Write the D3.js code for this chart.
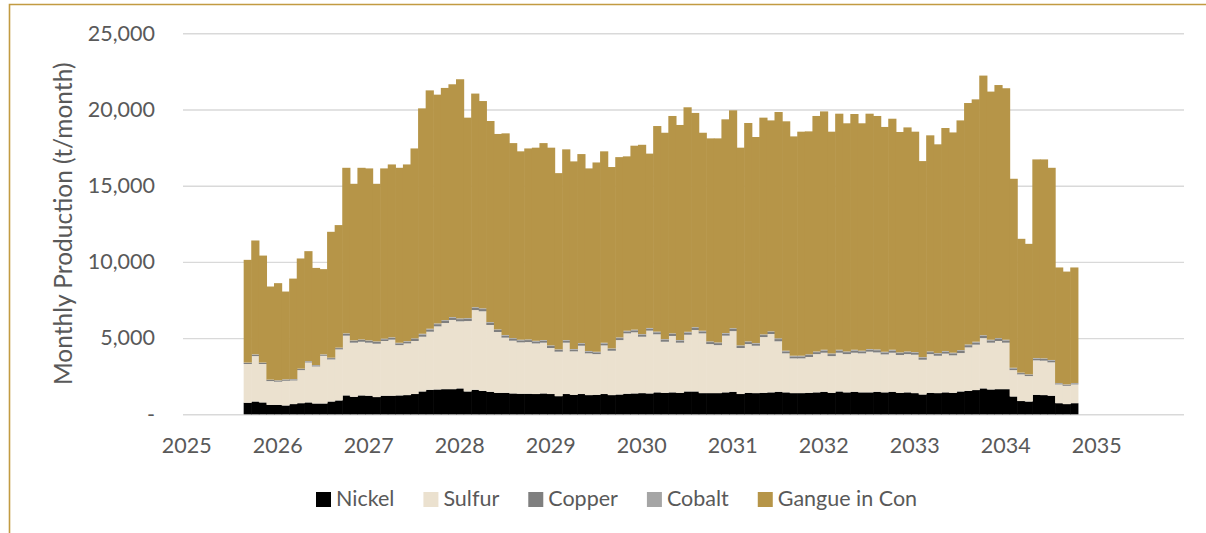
<!DOCTYPE html>
<html>
<head>
<meta charset="utf-8">
<script src="https://cdn.jsdelivr.net/npm/d3@7"></script>
<style>
  html, body { margin: 0; padding: 0; background: #ffffff; }
  text { font-family: Lato, "Open Sans", sans-serif; fill: #595959; }
</style>
</head>
<body>
<svg id="chart" width="1206" height="533"></svg>
<script>
// Monthly concentrate production, Sep 2025 – Oct 2034 (t/month)
const firstMonth = new Date(2025, 8, 1);

const nickel = [
  760, 840, 780, 620, 620, 580, 670, 730, 780, 710,
  710, 840, 910, 1240, 1150, 1240, 1220, 1130, 1220, 1220,
  1240, 1260, 1330, 1500, 1610, 1630, 1650, 1650, 1700, 1500,
  1610, 1540, 1480, 1410, 1410, 1370, 1350, 1350, 1330, 1370,
  1330, 1190, 1330, 1280, 1330, 1260, 1280, 1330, 1260, 1300,
  1350, 1370, 1390, 1370, 1440, 1410, 1440, 1410, 1500, 1500,
  1390, 1390, 1390, 1440, 1480, 1330, 1410, 1390, 1410, 1440,
  1480, 1440, 1390, 1390, 1410, 1440, 1480, 1410, 1500, 1440,
  1480, 1440, 1440, 1480, 1440, 1480, 1410, 1440, 1390, 1300,
  1410, 1390, 1440, 1410, 1500, 1540, 1590, 1700, 1630, 1650,
  1650, 1170, 870, 840, 1280, 1260, 1220, 730, 670, 730
];

const sulfur = [
  2540, 2980, 2520, 1560, 1520, 1620, 1550, 2170, 2620, 2430,
  3130, 2760, 3350, 3920, 3550, 3520, 3480, 3500, 3590, 3680,
  3300, 3390, 3480, 3590, 3810, 4140, 4340, 4540, 4400, 4620,
  5230, 5220, 4380, 3990, 3620, 3460, 3370, 3390, 3320, 3330,
  3020, 2920, 3370, 2850, 3170, 2740, 2670, 3190, 2910, 3570,
  3960, 4010, 3700, 4120, 3810, 3350, 3700, 3290, 3720, 4030,
  3920, 3220, 3150, 3720, 3980, 3020, 3200, 3110, 3660, 3830,
  3310, 2560, 2280, 2280, 2350, 2510, 2560, 2410, 2540, 2510,
  2560, 2560, 2670, 2580, 2490, 2560, 2480, 2510, 2520, 2280,
  2540, 2450, 2540, 2460, 2520, 2850, 2980, 3300, 3070, 3160,
  3050, 1730, 1750, 1670, 2260, 2260, 2190, 1230, 1200, 1230
];

const copper = [
  70, 85, 70, 70, 70, 70, 70, 70, 70, 70,
  70, 85, 85, 115, 115, 115, 115, 115, 115, 115,
  115, 115, 130, 145, 145, 145, 145, 145, 145, 145,
  145, 145, 145, 130, 130, 130, 130, 130, 130, 130,
  130, 115, 130, 115, 130, 115, 115, 130, 115, 130,
  130, 130, 130, 130, 130, 130, 130, 130, 145, 145,
  130, 130, 130, 130, 145, 130, 130, 130, 130, 130,
  145, 130, 130, 130, 130, 130, 145, 130, 145, 130,
  145, 130, 130, 145, 130, 145, 130, 130, 130, 130,
  130, 130, 130, 130, 145, 145, 145, 145, 145, 145,
  145, 115, 85, 85, 115, 115, 115, 70, 70, 70
];

const cobalt = [
  25, 30, 25, 25, 25, 25, 25, 25, 25, 25,
  25, 30, 30, 40, 40, 40, 40, 40, 40, 40,
  40, 40, 45, 50, 50, 50, 50, 50, 50, 50,
  50, 50, 50, 45, 45, 45, 45, 45, 45, 45,
  45, 40, 45, 40, 45, 40, 40, 45, 40, 45,
  45, 45, 45, 45, 45, 45, 45, 45, 50, 50,
  45, 45, 45, 45, 50, 45, 45, 45, 45, 45,
  50, 45, 45, 45, 45, 45, 50, 45, 50, 45,
  50, 45, 45, 50, 45, 50, 45, 45, 45, 45,
  45, 45, 45, 45, 50, 50, 50, 50, 50, 50,
  50, 40, 30, 30, 40, 40, 40, 25, 25, 25
];

const gangue = [
  6740, 7470, 7020, 6110, 6370, 5760, 6590, 7230, 7210, 6370,
  5590, 8260, 8040, 10860, 10270, 11260, 11280, 10340, 11170, 11340,
  11480, 11590, 12460, 14790, 15640, 15010, 15230, 15270, 15690, 13150,
  14010, 13600, 13190, 12820, 13230, 12790, 12360, 12530, 12670, 12920,
  12970, 11560, 12510, 12310, 12400, 11980, 12420, 12560, 11900, 11830,
  11440, 12070, 12420, 11440, 13490, 13540, 14260, 14110, 14730, 14050,
  12990, 13320, 13390, 14020, 14290, 12970, 14330, 13520, 14220, 13840,
  14850, 15050, 14390, 14700, 14630, 15450, 15640, 14550, 15490, 14970,
  15470, 14920, 15440, 15320, 14750, 15160, 14460, 14700, 14460, 12860,
  14180, 13700, 14630, 14450, 15070, 15840, 15900, 17030, 16280, 16600,
  16500, 12400, 8780, 8560, 13030, 13050, 12610, 7580, 7400, 7580
];

const seriesNames = ["Nickel", "Sulfur", "Copper", "Cobalt", "Gangue in Con"];
const seriesValues = [nickel, sulfur, copper, cobalt, gangue];
const seriesColors = ["#000000", "#ebe1cf", "#7f7f7f", "#a5a5a5", "#b69548"];

const yTicks = [0, 5000, 10000, 15000, 20000, 25000];
const axisStart = new Date(2025, 0, 1);
const axisEnd = new Date(2036, 0, 1);
const yTitle = "Monthly Production (t/month)";

// ---- layout ----
const svg = d3.select("#chart");
const plot = { left: 183, right: 1184, top: 33.3, bottom: 414.3 };
const tickFont = "21.5px";

const months = d3.timeMonths(firstMonth, d3.timeMonth.offset(firstMonth, nickel.length));
const rows = months.map((m, i) => {
  const r = { month: +m };
  seriesNames.forEach((k, s) => { r[k] = seriesValues[s][i]; });
  return r;
});

const axisMonths = d3.timeMonths(axisStart, axisEnd).map(d => +d);
const x = d3.scaleBand().domain(axisMonths).range([plot.left, plot.right]).padding(0);
const y = d3.scaleLinear().domain([0, 25000]).range([plot.bottom, plot.top]);
const color = d3.scaleOrdinal().domain(seriesNames).range(seriesColors);

// chart frame
svg.append("path")
  .attr("d", "M9.5,533 L9.5,4.5 L1206,4.5")
  .attr("fill", "none")
  .attr("stroke", "#c29b42")
  .attr("stroke-width", 1.6);

// value axis with gridlines
const yAxis = svg.append("g")
  .attr("transform", `translate(${plot.left},0)`)
  .call(d3.axisLeft(y)
    .tickValues(yTicks)
    .tickSize(-(plot.right - plot.left))
    .tickPadding(28)
    .tickFormat(d => d === 0 ? "-" : d3.format(",")(d)));
yAxis.select(".domain").remove();
yAxis.selectAll(".tick line").attr("stroke", "#d9d9d9").attr("stroke-width", 1.4);
yAxis.selectAll(".tick text")
  .style("font-size", tickFont)
  .attr("fill", "#595959");

// stacked monthly bars
const stacked = d3.stack().keys(seriesNames)(rows);
const bw = x.bandwidth();
svg.append("g")
  .selectAll("g")
  .data(stacked)
  .join("g")
  .attr("fill", d => color(d.key))
  .selectAll("rect")
  .data(d => d)
  .join("rect")
  .attr("x", d => x(d.data.month))
  .attr("y", d => y(d[1]))
  .attr("width", bw + 0.6)
  .attr("height", d => Math.max(0, y(d[0]) - y(d[1])));

// time axis, one label per January
const xAxis = svg.append("g")
  .attr("transform", `translate(0,${plot.bottom})`)
  .call(d3.axisBottom(x)
    .tickValues(axisMonths.filter(d => new Date(d).getMonth() === 0))
    .tickSize(0)
    .tickFormat(d => d3.timeFormat("%Y")(new Date(d))));
xAxis.select(".domain").remove();
xAxis.selectAll(".tick text")
  .attr("y", 39)
  .attr("dy", 0)
  .style("font-size", tickFont)
  .attr("fill", "#595959");

// axis title
svg.append("text")
  .attr("transform", `translate(62,${(plot.top + plot.bottom) / 2}) rotate(-90)`)
  .attr("text-anchor", "middle")
  .attr("dominant-baseline", "central")
  .style("font-size", "24.5px")
  .text(yTitle);

// legend
const legend = svg.append("g");
let lx = 316;
seriesNames.forEach((name, i) => {
  const g = legend.append("g").attr("transform", `translate(${lx},0)`);
  g.append("rect").attr("x", 0).attr("y", 492).attr("width", 15).attr("height", 15)
    .attr("fill", seriesColors[i]);
  const t = g.append("text").attr("x", 20).attr("y", 506)
    .style("font-size", tickFont).text(name);
  lx += 20 + t.node().getComputedTextLength() + 29;
});
</script>
</body>
</html>
